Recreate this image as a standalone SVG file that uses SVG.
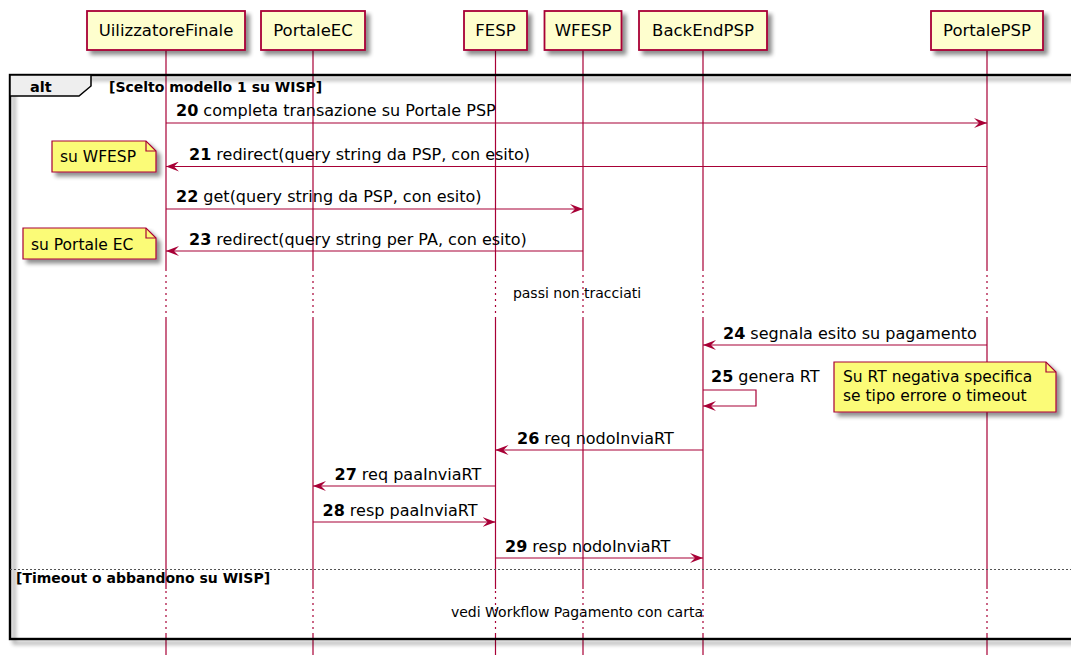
<svg xmlns="http://www.w3.org/2000/svg" width="1071" height="655" viewBox="0 0 1071 655">
<style>
.box{fill:#FEFECE;stroke:#A80036;stroke-width:1.8}
.pt{font-family:"DejaVu Sans",sans-serif;font-size:16.5px;fill:#000;text-anchor:middle}
.ll{stroke:#A80036;stroke-width:1.2;fill:none}
.dl{stroke:#A80036;stroke-width:1.2;stroke-dasharray:2,4;fill:none}
.msg{stroke:#A80036;stroke-width:1.2;fill:none;marker-end:url(#ah)}
.mt{font-family:"DejaVu Sans",sans-serif;font-size:16px;fill:#000}
.mt tspan{font-weight:bold}
.note{fill:#FBFB77;stroke:#A80036;stroke-width:1.2}
.fold{fill:none;stroke:#A80036;stroke-width:1.2}
.nt{font-family:"DejaVu Sans",sans-serif;font-size:15.5px;fill:#000}
.gt{font-family:"DejaVu Sans",sans-serif;font-size:14px;font-weight:bold;fill:#000}
.dt{font-family:"DejaVu Sans",sans-serif;font-size:14px;fill:#000;text-anchor:middle}
</style>
<defs>
<filter id="sh" x="-10%" y="-10%" width="130%" height="150%">
<feGaussianBlur in="SourceAlpha" stdDeviation="2"/>
<feOffset dx="4" dy="4" result="b"/>
<feComponentTransfer><feFuncA type="linear" slope="0.45"/></feComponentTransfer>
<feMerge><feMergeNode/><feMergeNode in="SourceGraphic"/></feMerge>
</filter>
<marker id="ah" viewBox="0 0 13 10" refX="13" refY="5" markerWidth="13" markerHeight="10" markerUnits="userSpaceOnUse" orient="auto">
<path d="M0,0 L13,5 L0,10 L5,5 Z" fill="#A80036"/>
</marker>
</defs>
<rect width="1071" height="655" fill="#FFFFFF"/>

<g id="lifelines">
<path class="ll" d="M166,50V269M166,318V589M166,633V655"/>
<path class="dl" d="M166,269V318M166,591V633"/>
<path class="ll" d="M313,50V269M313,318V589M313,633V655"/>
<path class="dl" d="M313,269V318M313,591V633"/>
<path class="ll" d="M495.5,50V269M495.5,318V589M495.5,633V655"/>
<path class="dl" d="M495.5,269V318M495.5,591V633"/>
<path class="ll" d="M583,50V269M583,318V589M583,633V655"/>
<path class="dl" d="M583,269V318M583,591V633"/>
<path class="ll" d="M703,50V269M703,318V589M703,633V655"/>
<path class="dl" d="M703,269V318M703,591V633"/>
<path class="ll" d="M987,50V269M987,318V589M987,633V655"/>
<path class="dl" d="M987,269V318M987,591V633"/>
</g>

<g id="p-UilizzatoreFinale"><rect class="box" x="87" y="11" width="158" height="39" filter="url(#sh)"/><text class="pt" x="166" y="36">UilizzatoreFinale</text></g>
<g id="p-PortaleEC"><rect class="box" x="261" y="11" width="104" height="39" filter="url(#sh)"/><text class="pt" x="313" y="36">PortaleEC</text></g>
<g id="p-FESP"><rect class="box" x="464" y="11" width="63" height="39" filter="url(#sh)"/><text class="pt" x="495.5" y="36">FESP</text></g>
<g id="p-WFESP"><rect class="box" x="544.5" y="11" width="77" height="39" filter="url(#sh)"/><text class="pt" x="583" y="36">WFESP</text></g>
<g id="p-BackEndPSP"><rect class="box" x="639" y="11" width="128" height="39" filter="url(#sh)"/><text class="pt" x="703" y="36">BackEndPSP</text></g>
<g id="p-PortalePSP"><rect class="box" x="931" y="11" width="112" height="39" filter="url(#sh)"/><text class="pt" x="987" y="36">PortalePSP</text></g>

<g id="alt-frame">
<rect x="10" y="75" width="1090" height="564" fill="none" stroke="#000" stroke-width="2.4" filter="url(#sh)"/>
<path d="M10,75H91V86L79,96H10Z" fill="#EEEEEE" stroke="#000" stroke-width="1.5"/>
<text class="gt" x="30" y="92" style="font-size:14.5px">alt</text>
<text class="gt" x="109" y="92">[Scelto modello 1 su WISP]</text>
<line x1="10" y1="569.5" x2="1071" y2="569.5" stroke="#555" stroke-width="1.2" stroke-dasharray="2,2"/>
<text class="gt" x="16" y="583">[Timeout o abbandono su WISP]</text>
<text class="dt" x="577" y="298">passi non tracciati</text>
<text class="dt" x="577" y="617">vedi Workflow Pagamento con carta</text>
</g>

<g id="notes">
<g id="note-wfesp"><path class="note" d="M52,141V172H156V151L146,141Z" filter="url(#sh)"/><path class="fold" d="M146,141V151H156"/><text class="nt" x="60" y="162">su WFESP</text></g>
<g id="note-portaleec"><path class="note" d="M23,228V259H156V238L146,228Z" filter="url(#sh)"/><path class="fold" d="M146,228V238H156"/><text class="nt" x="31" y="250">su Portale EC</text></g>
<g id="note-rt"><path class="note" d="M834,362V412H1056V372L1046,362Z" filter="url(#sh)"/><path class="fold" d="M1046,362V372H1056"/><text class="nt" x="843" y="382">Su RT negativa specifica</text><text class="nt" x="843" y="401">se tipo errore o timeout</text></g>
</g>

<g id="connectors">
<path class="msg" d="M166,123H987"/>
<text class="mt" x="176" y="116"><tspan>20</tspan> completa transazione su Portale PSP</text>
<path class="msg" d="M987,166.5H166"/>
<text class="mt" x="189" y="160"><tspan>21</tspan> redirect(query string da PSP, con esito)</text>
<path class="msg" d="M166,209H583"/>
<text class="mt" x="176" y="202"><tspan>22</tspan> get(query string da PSP, con esito)</text>
<path class="msg" d="M583,251H166"/>
<text class="mt" x="189" y="244.5"><tspan>23</tspan> redirect(query string per PA, con esito)</text>
<path class="msg" d="M987,345H703"/>
<text class="mt" x="723" y="338.5"><tspan>24</tspan> segnala esito su pagamento</text>
<path class="msg" d="M703,390H756V406H703"/>
<text class="mt" x="711" y="382"><tspan>25</tspan> genera RT</text>
<path class="msg" d="M703,450H495.5"/>
<text class="mt" x="517" y="443.5"><tspan>26</tspan> req nodoInviaRT</text>
<path class="msg" d="M495.5,486H313"/>
<text class="mt" x="334.5" y="479.5"><tspan>27</tspan> req paaInviaRT</text>
<path class="msg" d="M313,522H495.5"/>
<text class="mt" x="322.5" y="515.5"><tspan>28</tspan> resp paaInviaRT</text>
<path class="msg" d="M495.5,558H703"/>
<text class="mt" x="505" y="551.5"><tspan>29</tspan> resp nodoInviaRT</text>
</g>
</svg>
